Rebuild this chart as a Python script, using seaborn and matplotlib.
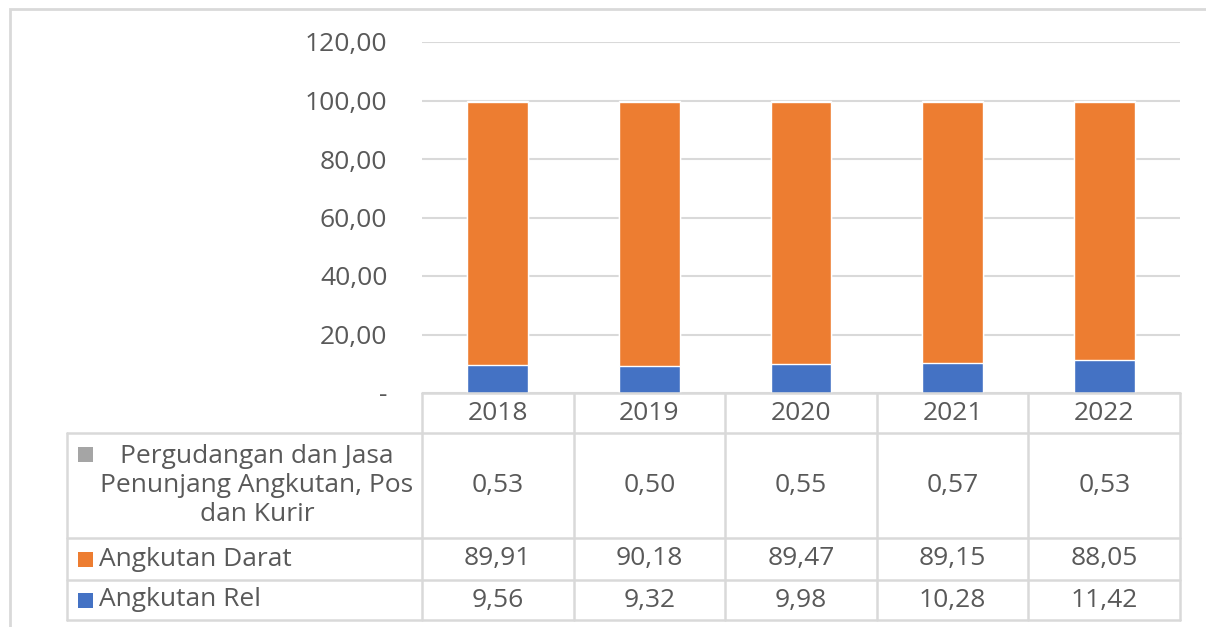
import matplotlib.pyplot as plt
import matplotlib.ticker as mticker
from matplotlib.patches import Rectangle
import seaborn as sns

years = ["2018", "2019", "2020", "2021", "2022"]
series_names = ["Pergudangan dan Jasa\nPenunjang Angkutan, Pos\ndan Kurir", "Angkutan Darat", "Angkutan Rel"]
pergudangan = [0.53, 0.50, 0.55, 0.57, 0.53]
darat = [89.91, 90.18, 89.47, 89.15, 88.05]
rel = [9.56, 9.32, 9.98, 10.28, 11.42]
colors = ["#A5A5A5", "#ED7D31", "#4472C4"]
yticks = [0, 20, 40, 60, 80, 100, 120]

sns.set_theme(style="white")
plt.rcParams["font.family"] = ["Open Sans", "DejaVu Sans"]
txt = "#595959"
line_c = "#D9D9D9"
fs = 19

W, H = 1206, 627
fig = plt.figure(figsize=(W / 100, H / 100), dpi=100)

# outer chart frame
fig.patches.append(Rectangle((10 / W, -0.1), 1.2, 1 - 9 / H + 0.1, transform=fig.transFigure,
                             fill=False, edgecolor=line_c, lw=2))

ax = fig.add_axes([422 / W, 1 - 393 / H, (1180 - 422) / W, (393 - 42) / H])

# stacked bars: draw cumulative totals from the top series down
tot_all = [a + b + c for a, b, c in zip(pergudangan, darat, rel)]
tot_low = [b + c for b, c in zip(darat, rel)]
sns.barplot(x=years, y=tot_all, color=colors[0], width=0.4, saturation=1, ax=ax, zorder=3)
sns.barplot(x=years, y=tot_low, color=colors[1], width=0.4, saturation=1, ax=ax, zorder=3)
sns.barplot(x=years, y=rel, color=colors[2], width=0.4, saturation=1, ax=ax, zorder=3)

ax.set_ylim(0, 120)
ax.set_xlim(-0.5, 4.5)
ax.set_yticks(yticks)
ax.yaxis.set_major_formatter(mticker.FuncFormatter(
    lambda v, p: "-" if v == 0 else f"{v:.2f}".replace(".", ",")))
ax.tick_params(axis="y", length=0, pad=25, labelsize=fs, labelcolor=txt)
ax.set_xticks([])
ax.set_xlabel("")
ax.set_ylabel("")
ax.grid(axis="y", color=line_c, lw=1.5, zorder=0)
for s in ax.spines.values():
    s.set_visible(False)

# data table below the plot
col_w = (1180 - 422) / 5


def px(x):
    return -0.5 + (x - 422) / col_w


left = px(67)
rows = [0, 40, 145, 187, 227]
tab = fig.add_axes([67 / W, 1 - 620 / H, (1180 - 67) / W, (620 - 393) / H])
tab.set_xlim(left, 4.5)
tab.set_ylim(227, 0)
tab.axis("off")

lk = dict(color=line_c, lw=1.8, clip_on=False)
tab.plot([-0.5, 4.5], [rows[0], rows[0]], **lk)
for r in rows[1:]:
    tab.plot([left, 4.5], [r, r], **lk)
tab.plot([left, left], [rows[1], rows[-1]], **lk)
for i in range(6):
    tab.plot([i - 0.5, i - 0.5], [rows[0], rows[-1]], **lk)

for i, y in enumerate(years):
    tab.text(i, (rows[0] + rows[1]) / 2, y, ha="center", va="center", fontsize=fs, color=txt)

values = [pergudangan, darat, rel]
for k, (name, vals, c) in enumerate(zip(series_names, values, colors)):
    yc = (rows[k + 1] + rows[k + 2]) / 2
    for i, v in enumerate(vals):
        tab.text(i, yc, f"{v:.2f}".replace(".", ","), ha="center", va="center",
                 fontsize=fs, color=txt)
    if k == 0:
        tab.text(px(257), yc, name, ha="center", va="center", fontsize=fs,
                 color=txt, linespacing=1.2)
        sq_y = 454
    else:
        tab.text(px(99), yc, name, ha="left", va="center", fontsize=fs, color=txt)
        sq_y = yc + 393
    tab.add_patch(Rectangle((px(78), sq_y - 393 - 7.5), 15 / col_w, 15,
                            facecolor=c, edgecolor="none"))

fig.savefig("out.png", dpi=100)
